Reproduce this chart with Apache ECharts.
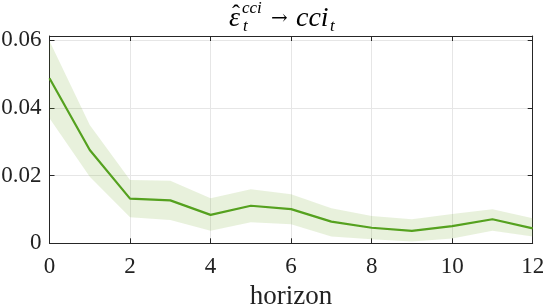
<!DOCTYPE html>
<html><head><meta charset="utf-8">
<script src="https://cdn.jsdelivr.net/npm/echarts@6/dist/echarts.min.js"></script>
<style>html,body{margin:0;padding:0;background:#fff}#c{width:545px;height:305px}</style>
</head><body><div id="c"></div>
<script>
var horizon = [0,1,2,3,4,5,6,7,8,9,10,11,12];
var irf   = [0.0488,0.0276,0.0132,0.0127,0.0084,0.0111,0.0101,0.0064,0.0046,0.0037,0.0051,0.0071,0.0044];
var upper = [0.0598,0.0350,0.0187,0.0185,0.0133,0.0160,0.0145,0.0104,0.0081,0.0071,0.0087,0.0101,0.0074];
var lower = [0.0370,0.0197,0.0077,0.0069,0.0037,0.0062,0.0056,0.0020,0.0012,0.0005,0.0014,0.0037,0.0020];
var yTicks = [0,0.02,0.04,0.06];

var lineColor = '#55a11f';
var bandColor = 'rgba(119,172,48,0.24)';
var axisColor = '#262626';
var font = 'Liberation Serif';

var diff = upper.map(function(u,i){ return u - lower[i]; });
var cats = horizon.map(String);

function yFmt(v){
  for (var i=0;i<yTicks.length;i++){ if (Math.abs(v-yTicks[i])<1e-9) return v===0?'0':v.toFixed(2); }
  return '';
}

var chart = echarts.init(document.getElementById('c'), null, {renderer:'canvas'});
var axLine = {show:true,onZero:false,lineStyle:{color:axisColor,width:1}};
var axTick = {show:true,inside:true,length:5,lineStyle:{color:axisColor}};
var axTickCat = {show:true,inside:true,length:5,interval:1,alignWithLabel:true,lineStyle:{color:axisColor}};

function tx(text, x, y, size, italic, fam){
  return {type:'text', left:x, top:y, style:{text:text, fontFamily:fam||font, fontSize:size,
    fontStyle: italic?'italic':'normal', fill:'#000'}};
}

chart.setOption({
  animation:false,
  graphic:[
    tx('ε', 229, 5, 28, true),
    tx('ˆ', 232, 3, 24, false),
    tx('cci', 242, 0, 17, true),
    tx('t', 243, 18, 17, true),
    tx('→', 271, 9, 20, false, 'DejaVu Serif'),
    tx('cci', 296, 5, 28, true),
    tx('t', 330, 18, 17, true)
  ],
  grid:{left:49.5,right:12.3,top:36,bottom:61.7,containLabel:false,outerBoundsMode:'none'},
  xAxis:[
    {
      type:'category', data:cats, boundaryGap:false, position:'bottom',
      axisLine:axLine, axisTick:axTickCat,
      name:'horizon', nameLocation:'middle', nameGap:33,
      nameTextStyle:{fontFamily:font,fontSize:27,color:'#222'},
      axisLabel:{fontFamily:font,fontSize:23,color:'#222',margin:12,interval:1},
      splitLine:{show:true,interval:1,lineStyle:{color:'#e6e6e6',width:1}}
    },
    {
      type:'category', data:cats, boundaryGap:false, position:'top',
      axisLine:axLine, axisTick:axTickCat,
      axisLabel:{show:false}, splitLine:{show:false}
    }
  ],
  yAxis:[
    {
      type:'value', min:0, max:0.0613, interval:0.02, position:'left',
      axisLine:axLine, axisTick:axTick,
      axisLabel:{fontFamily:font,fontSize:23,color:'#222',margin:8,formatter:yFmt,showMaxLabel:false},
      splitLine:{show:true,lineStyle:{color:'#e6e6e6',width:1}}
    },
    {
      type:'value', min:0, max:0.0613, interval:0.02, position:'right',
      axisLine:axLine, axisTick:axTick,
      axisLabel:{show:false}, splitLine:{show:false}
    }
  ],
  series:[
    {type:'line',data:lower,stack:'band',symbol:'none',lineStyle:{opacity:0},areaStyle:{opacity:0},silent:true,z:1},
    {type:'line',data:diff,stack:'band',symbol:'none',lineStyle:{opacity:0},areaStyle:{color:bandColor},silent:true,z:1},
    {type:'line',data:irf,symbol:'none',lineStyle:{color:lineColor,width:2.2},z:3}
  ]
});
</script></body></html>
